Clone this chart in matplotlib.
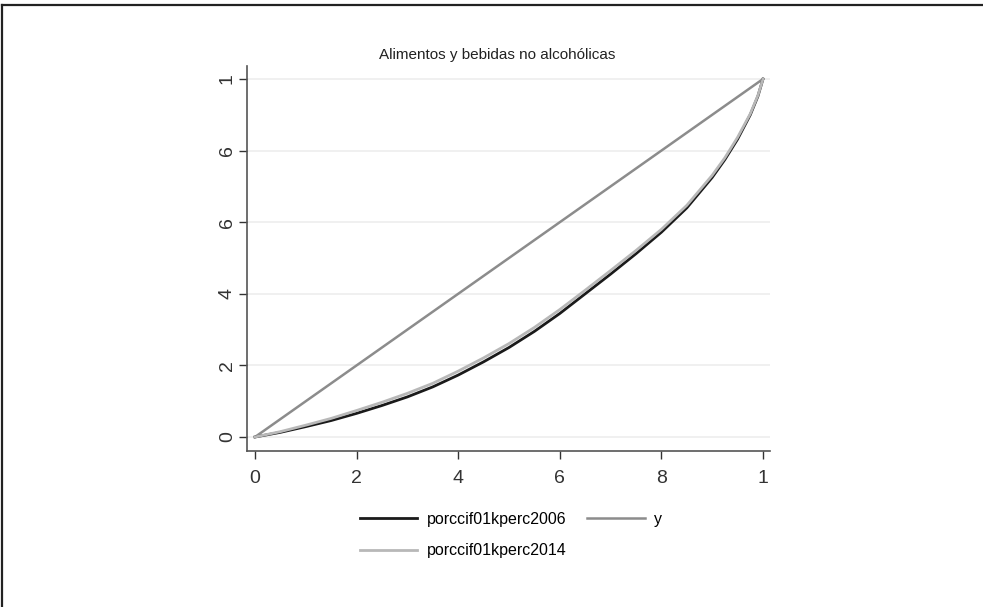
import matplotlib
matplotlib.use("Agg")
import matplotlib.pyplot as plt
from matplotlib.lines import Line2D

# Lorenz curve data
pct = [0, .05, .1, .15, .2, .25, .3, .35, .4, .45, .5, .55, .6, .65, .7, .75, .8, .85, .9,
       .925, .95, .975, .99, 1]
share2006 = [0, .013, .029, .046, .066, .088, .112, .140, .173, .210, .250, .295, .345, .400,
             .455, .512, .572, .640, .725, .775, .832, .900, .952, 1]
share2014 = [0, .015, .033, .052, .074, .097, .122, .150, .184, .221, .261, .306, .356, .410,
             .465, .521, .580, .647, .731, .780, .837, .903, .954, 1]
equality = [0, 1]

xticks = [0, .2, .4, .6, .8, 1]
xlabels = ["0", "2", "4", "6", "8", "1"]
yticks = [0, .2, .4, .6, .8, 1]
ylabels = ["0", "2", "4", "6", "6", "1"]

plt.rcParams['font.family'] = ['Liberation Sans', 'DejaVu Sans']

fig = plt.figure(figsize=(9.83, 6.07), dpi=100)
ax = fig.add_axes([247/983, 1-451/607, (770-247)/983, (451-66)/607])

l1, = ax.plot(pct, share2006, color="#1a1a1a", lw=2.0, label="porccif01kperc2006", zorder=3)
l2, = ax.plot(pct, share2014, color="#b8b8b8", lw=2.0, label="porccif01kperc2014", zorder=4)
l3, = ax.plot(equality, equality, color="#8c8c8c", lw=1.8, label="y", zorder=2)

ax.set_xlim(-8/508, 1 + 7/508)
ax.set_ylim(-14/358, 1 + 13/358)
ax.set_xticks(xticks)
ax.set_xticklabels(xlabels)
ax.set_yticks(yticks)
ax.set_yticklabels(ylabels, rotation=90, va="center")
ax.tick_params(direction="out", length=6, width=1, colors="#333333", labelsize=14)
ax.tick_params(axis="x", pad=8)
ax.tick_params(axis="y", pad=2)
ax.grid(axis="y", color="#eeeeee", lw=1.2)
ax.set_axisbelow(True)
for s in ["top", "right"]:
    ax.spines[s].set_visible(False)
for s in ["left", "bottom"]:
    ax.spines[s].set_color("#555555")
    ax.spines[s].set_linewidth(1.2)

fig.text(497/983, 1-55/607, "Alimentos y bebidas no alcohólicas", ha="center", va="center",
         fontsize=11, color="#222222")

fig.legend(handles=[l1, l2, l3], ncol=2, frameon=False, loc="center",
           bbox_to_anchor=(511/983, 1-535/607), fontsize=11.5, handlelength=3.6,
           handletextpad=0.6, columnspacing=1.3, labelspacing=1.05)

# outer frame (only top and left visible)
fig.add_artist(Line2D([2/983, 2/983], [0, 1-5/607], transform=fig.transFigure, color="#222222", lw=1.6))
fig.add_artist(Line2D([2/983, 1], [1-5/607, 1-5/607], transform=fig.transFigure, color="#222222", lw=1.6))

fig.savefig("out.png", dpi=100)
